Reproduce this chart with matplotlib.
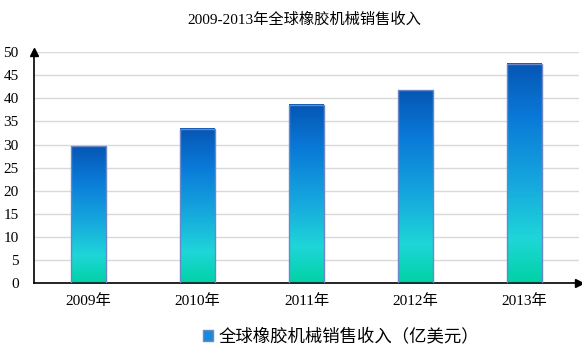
import matplotlib
matplotlib.use("Agg")
import matplotlib.pyplot as plt
import numpy as np
from matplotlib.colors import LinearSegmentedColormap
from matplotlib.patches import Rectangle

years = ["2009年", "2010年", "2011年", "2012年", "2013年"]
revenue = [29.6, 33.4, 38.6, 41.7, 47.5]
title = "2009-2013年全球橡胶机械销售收入"
legend_label = "全球橡胶机械销售收入（亿美元）"
yticks = [0, 5, 10, 15, 20, 25, 30, 35, 40, 45, 50]

FAM = ["Liberation Serif", "Noto Sans CJK SC", "DejaVu Sans"]
plt.rcParams["font.family"] = FAM

cmap = LinearSegmentedColormap.from_list(
    "g", [(0.0, "#00d2a4"), (0.2, "#1ed6d8"), (0.45, "#16a8de"),
          (0.75, "#0a7ad8"), (1.0, "#0656b4")])

fig = plt.figure(figsize=(5.82, 3.51), dpi=100)
ax = fig.add_axes([34/582, (351-283.3)/351, (579-34)/582, (283.3-52)/351])
x = np.arange(len(years))
width = 0.32
bars = ax.bar(x, revenue, width=width, color="none", edgecolor="#6a88c8",
              linewidth=1.0, zorder=3)
grad = np.linspace(0, 1, 256).reshape(-1, 1)
for b in bars:
    x0, y0 = b.get_x(), b.get_y()
    w, h = b.get_width(), b.get_height()
    ax.imshow(grad, cmap=cmap, origin="lower", aspect="auto",
              extent=(x0, x0 + w, y0, y0 + h), zorder=2)
    # soft shadow
    ax.add_patch(Rectangle((x0 + 0.012, y0), w, h, facecolor="#d0d0d0",
                           edgecolor="none", alpha=0.6, zorder=1))

ax.set_xlim(-0.5, 4.5)
ax.set_ylim(0, 50)
ax.set_yticks(yticks)
ax.set_yticklabels([str(t) for t in yticks], fontsize=11)
ax.set_xticks(x)
ax.set_xticklabels(years, fontsize=11)
ax.tick_params(axis="both", length=0, pad=11)
ax.tick_params(axis="x", pad=8)
ax.yaxis.grid(True, color="#d9d9d9", linewidth=1.0, zorder=0)
ax.set_axisbelow(True)
for s in ["top", "right"]:
    ax.spines[s].set_visible(False)
ax.spines["left"].set_linewidth(1.2)
ax.spines["bottom"].set_linewidth(1.2)
ax.plot([0], [1.0], marker="^", color="black", markersize=6,
        transform=ax.transAxes, clip_on=False, zorder=5)
ax.plot([1.0], [0], marker=">", color="black", markersize=6,
        transform=ax.transAxes, clip_on=False, zorder=5)

fig.text(304/582, 1 - 20/351, title, ha="center", va="center", fontsize=11)

handle = Rectangle((0, 0), 1, 1, facecolor="#1a8ad8", edgecolor="#6a88c8")
fig.legend([handle], [legend_label], loc="center", bbox_to_anchor=(341/582, 1 - 337/351),
           frameon=False, fontsize=12.5, handlelength=0.55, handleheight=0.55,
           handletextpad=0.3)

fig.savefig("out.png", dpi=100)
